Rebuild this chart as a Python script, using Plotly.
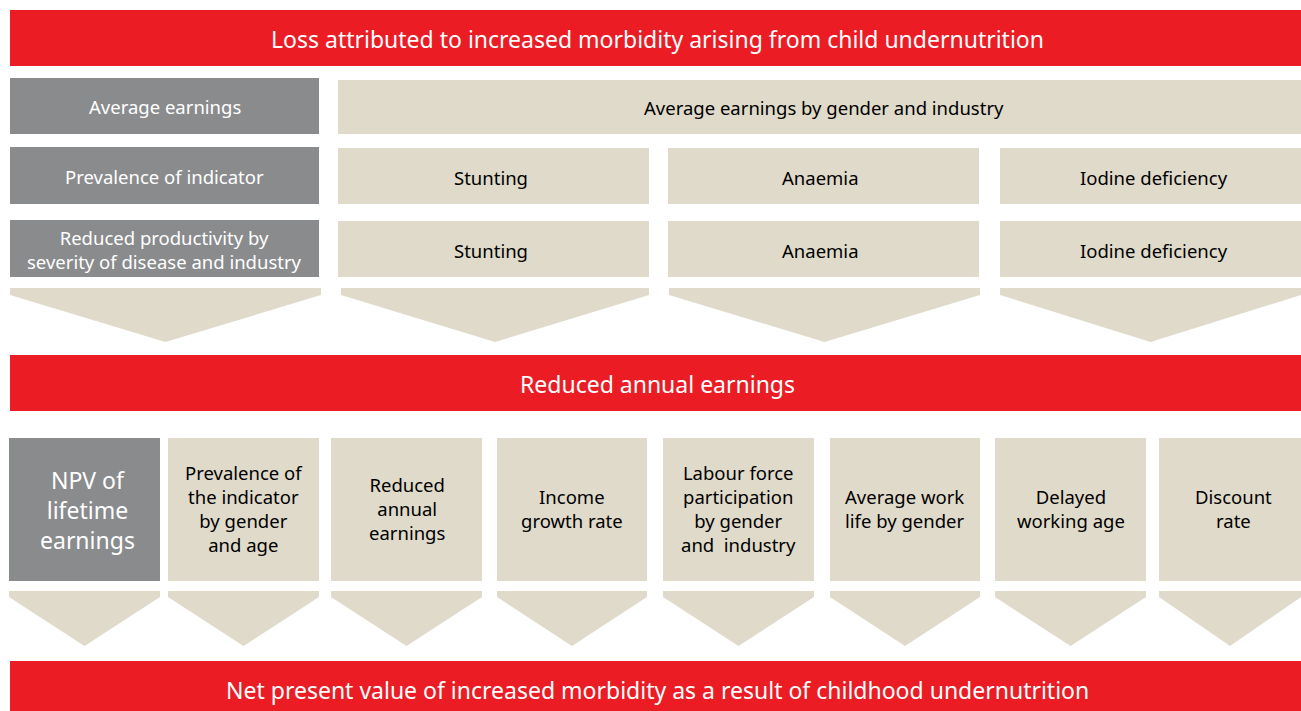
import plotly.graph_objects as go

# ---- text content ----
banner_labels = [
    "Loss attributed to increased morbidity arising from child undernutrition",
    "Reduced annual earnings",
    "Net present value of increased morbidity as a result of childhood undernutrition",
]
left_labels = [
    "Average earnings",
    "Prevalence of indicator",
    "Reduced productivity by<br>severity of disease and industry",
]
row1_labels = ["Average earnings by gender and industry"]
row2_labels = ["Stunting", "Anaemia", "Iodine deficiency"]
row3_labels = ["Stunting", "Anaemia", "Iodine deficiency"]
bottom_labels = [
    "NPV of<br>lifetime<br>earnings",
    "Prevalence of<br>the indicator<br>by gender<br>and age",
    "Reduced<br>annual<br>earnings",
    "Income<br>growth rate",
    "Labour force<br>participation<br>by gender<br>and  industry",
    "Average work<br>life by gender",
    "Delayed<br>working age",
    "Discount<br>rate",
]

# ---- layout geometry (pixels) ----
W, H = 1301, 711
RED = "#EC1C24"
GRAY = "#8A8B8D"
BEIGE = "#DFDACA"
FONT = "Noto Sans"
BOX_SIZE = 18.5
BANNER_SIZE = 23

banner_y = [(10, 66), (355, 411), (661, 712)]
banner_text_y = [38.5, 383.5, 689.5]
left_x = (10, 319)
row_y = [(78, 134), (147, 204), (220, 277)]
row1_x = [(338, 1301)]
row23_x = [(338, 649), (668, 979), (1000, 1301)]
top_arrow_x = [(10, 321), (341, 649), (669, 980), (1000, 1301)]
top_arrow_y = (288, 295, 342)
bot_x = [(9, 160), (168, 319), (331, 482), (497, 647),
         (663, 814), (830, 980), (995, 1146), (1159, 1301)]
bot_y = (438, 581)
bot_arrow_y = (591, 597, 646)

shapes = []
annotations = []


def rect(x0, x1, y0, y1, color):
    shapes.append(dict(type="rect", xref="x", yref="y", x0=x0, x1=x1, y0=y0, y1=y1,
                       fillcolor=color, line=dict(width=0), layer="below"))


def label(text, x, y, size, color):
    annotations.append(dict(text=text, x=x, y=y, xref="x", yref="y", showarrow=False,
                            font=dict(family=FONT, size=size, color=color),
                            xanchor="center", yanchor="middle", align="center"))


def chevron(x0, x1, ys):
    yt, ysh, ya = ys
    xc = (x0 + x1) / 2
    path = f"M {x0},{yt} L {x1},{yt} L {x1},{ysh} L {xc},{ya} L {x0},{ysh} Z"
    shapes.append(dict(type="path", xref="x", yref="y", path=path,
                       fillcolor=BEIGE, line=dict(width=0), layer="below"))


# banners
for (y0, y1), ty, txt in zip(banner_y, banner_text_y, banner_labels):
    rect(10, W, y0, y1, RED)
    label(txt, 657, ty, BANNER_SIZE, "white")

# left gray column
for (y0, y1), txt in zip(row_y, left_labels):
    rect(left_x[0], left_x[1], y0, y1, GRAY)
    label(txt, (left_x[0] + left_x[1]) / 2, (y0 + y1) / 2 + 0.5, BOX_SIZE, "white")

# right rows
for (x0, x1), txt in zip(row1_x, row1_labels):
    rect(x0, x1, row_y[0][0] + 2, row_y[0][1], BEIGE)
    label(txt, 824, (row_y[0][0] + row_y[0][1]) / 2 + 1.5, BOX_SIZE, "black")
for (y0, y1), labels in zip(row_y[1:], [row2_labels, row3_labels]):
    for (x0, x1), txt in zip(row23_x, labels):
        rect(x0, x1, y0 + 1, y1, BEIGE)
        cx = (x0 + x1) / 2
        if x1 >= W:
            cx = 1157
        label(txt, cx - 3, (y0 + y1) / 2 + 1.5, BOX_SIZE, "black")

for x0, x1 in top_arrow_x:
    chevron(x0, x1, top_arrow_y)

# bottom row of boxes
for i, ((x0, x1), txt) in enumerate(zip(bot_x, bottom_labels)):
    rect(x0, x1, bot_y[0], bot_y[1], GRAY if i == 0 else BEIGE)
    cx = (x0 + x1) / 2
    if x1 >= W:
        cx = 1233
    if i == 0:
        label(txt, cx + 3, 510, 23, "white")
    else:
        label(txt, cx, 508.5, BOX_SIZE, "black")
    chevron(x0, x1, bot_arrow_y)

fig = go.Figure()
fig.add_trace(go.Scatter(x=[0, W], y=[0, H], mode="markers",
                         marker=dict(opacity=0), hoverinfo="skip", showlegend=False))
fig.update_layout(
    width=W, height=H,
    margin=dict(l=0, r=0, t=0, b=0),
    paper_bgcolor="white", plot_bgcolor="white",
    xaxis=dict(range=[0, W], visible=False, fixedrange=True),
    yaxis=dict(range=[H, 0], visible=False, fixedrange=True),
    shapes=shapes, annotations=annotations, showlegend=False,
)
fig.write_html("out.html",
               config={"displayModeBar": False},
               post_script="document.body.style.margin='0';document.body.style.overflow='hidden';")
